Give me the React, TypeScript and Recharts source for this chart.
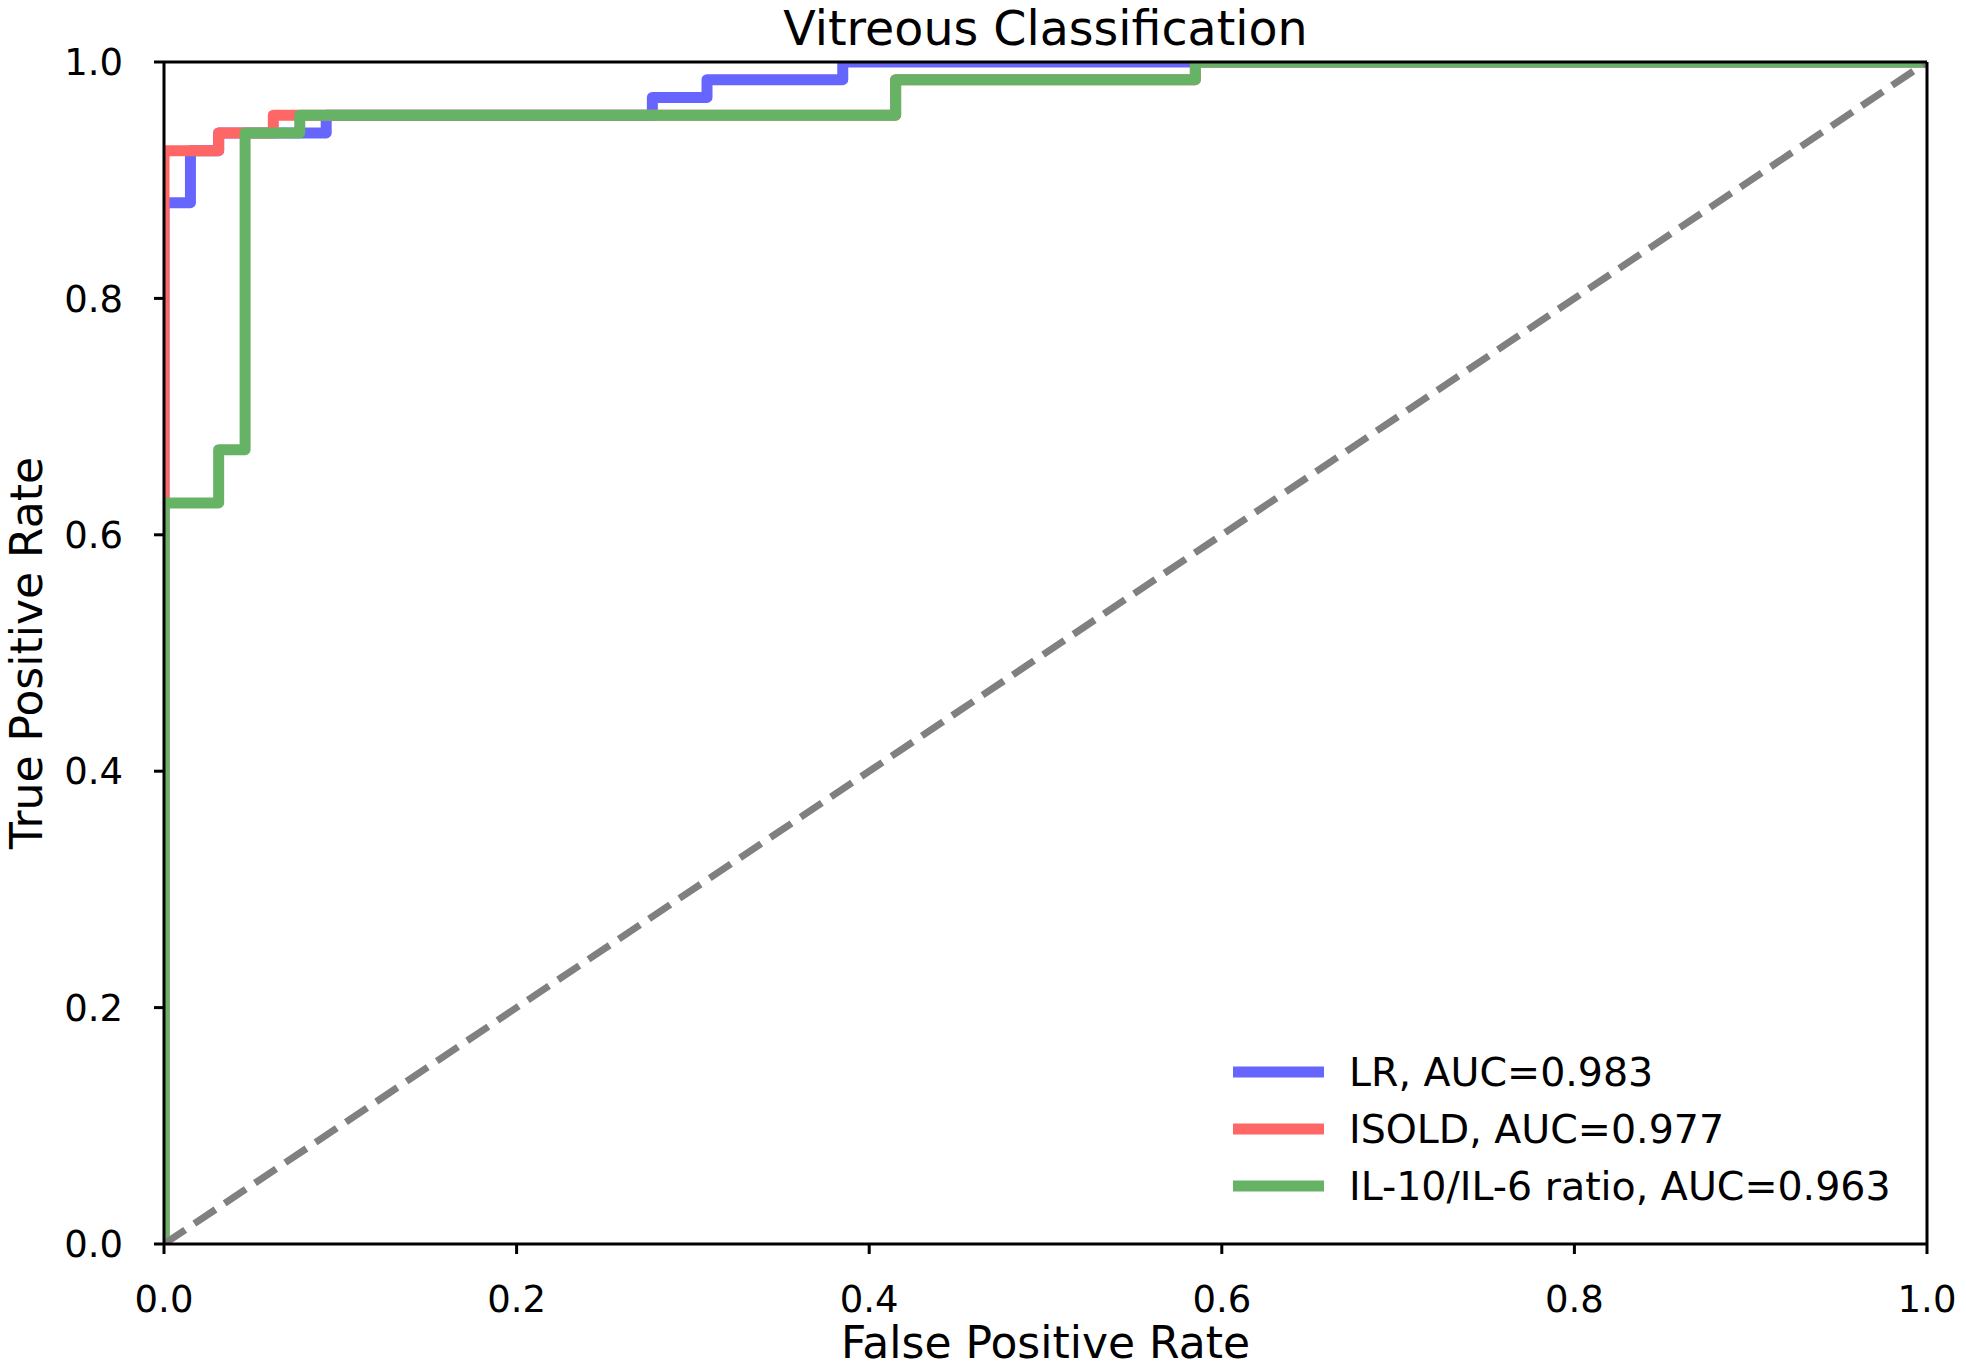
import { LineChart, Line, XAxis, YAxis, ReferenceLine } from "recharts";

// ROC curves (FPR / TPR corner points, step-after)
const lrFpr = [0, 0, 0.015, 0.031, 0.092, 0.277, 0.308, 0.385, 1.0];
const lrTpr = [0, 0.881, 0.925, 0.94, 0.955, 0.97, 0.985, 1.0, 1.0];

const isoldFpr = [0, 0, 0.031, 0.062, 0.415, 0.585, 1.0];
const isoldTpr = [0, 0.925, 0.94, 0.955, 0.985, 1.0, 1.0];

const ilFpr = [0, 0, 0.031, 0.046, 0.077, 0.415, 0.585, 1.0];
const ilTpr = [0, 0.627, 0.672, 0.94, 0.955, 0.985, 1.0, 1.0];

const chanceFpr = [0, 1];
const chanceTpr = [0, 1];

const seriesNames = ["LR, AUC=0.983", "ISOLD, AUC=0.977", "IL-10/IL-6 ratio, AUC=0.963"];
const seriesColors = ["#6666ff", "#ff6666", "#66b366"];
const ticks = [0, 0.2, 0.4, 0.6, 0.8, 1.0];

const W = 1966;
const H = 1370;
const FONT = "'DejaVu Sans', sans-serif";

const toRows = (xs: number[], ys: number[]) => xs.map((x, i) => ({ fpr: x, tpr: ys[i] }));

export default function App() {
  const curves = [
    toRows(lrFpr, lrTpr),
    toRows(isoldFpr, isoldTpr),
    toRows(ilFpr, ilTpr),
  ];
  const chance = toRows(chanceFpr, chanceTpr);

  const tickStyle = { fill: "#000", fontSize: 37, fontFamily: FONT };
  const frame = { stroke: "#000", strokeWidth: 3 };

  return (
    <div style={{ position: "absolute", left: 0, top: 0, width: W, height: H, background: "#fff" }}>
      <LineChart
        width={W}
        height={H}
        margin={{ top: 62, right: 39, bottom: 26, left: 34 }}
      >
        <XAxis
          dataKey="fpr"
          type="number"
          domain={[0, 1]}
          ticks={ticks}
          allowDataOverflow
          height={100}
          tickSize={10}
          tickMargin={32}
          tickFormatter={(v: number) => v.toFixed(1)}
          tick={tickStyle}
          axisLine={frame}
          tickLine={frame}
        />
        <YAxis
          type="number"
          domain={[0, 1]}
          ticks={ticks}
          allowDataOverflow
          width={130}
          tickSize={10}
          tickMargin={31}
          tickFormatter={(v: number) => v.toFixed(1)}
          tick={tickStyle}
          axisLine={frame}
          tickLine={frame}
        />
        {curves.map((rows, i) => (
          <Line
            key={seriesNames[i]}
            data={rows}
            dataKey="tpr"
            type="stepAfter"
            stroke={seriesColors[i]}
            strokeWidth={11}
            strokeLinejoin="round"
            dot={false}
            activeDot={false}
            isAnimationActive={false}
          />
        ))}
        <Line
          data={chance}
          dataKey="tpr"
          type="linear"
          stroke="#808080"
          strokeWidth={7}
          strokeDasharray="25.5 11"
          dot={false}
          activeDot={false}
          isAnimationActive={false}
        />
        {/* top and right spines */}
        <ReferenceLine y={1} stroke="#000" strokeWidth={3} />
        <ReferenceLine x={1} stroke="#000" strokeWidth={3} />
      </LineChart>

      <svg
        width={W}
        height={H}
        style={{ position: "absolute", left: 0, top: 0, pointerEvents: "none" }}
        fontFamily={FONT}
      >
        <text x={1045.5} y={45} textAnchor="middle" fontSize={47.5} fill="#000">
          Vitreous Classification
        </text>
        <text x={1045.5} y={1358} textAnchor="middle" fontSize={44} fill="#000">
          False Positive Rate
        </text>
        <text
          x={42}
          y={653}
          textAnchor="middle"
          fontSize={44}
          fill="#000"
          transform="rotate(-90, 42, 653)"
        >
          True Positive Rate
        </text>
        {seriesNames.map((name, i) => {
          const y = 1072 + i * 57;
          return (
            <g key={name}>
              <line x1={1233} x2={1324} y1={y} y2={y} stroke={seriesColors[i]} strokeWidth={11} />
              <text x={1349} y={y + 14} fontSize={39.5} fill="#000">
                {name}
              </text>
            </g>
          );
        })}
      </svg>
    </div>
  );
}
